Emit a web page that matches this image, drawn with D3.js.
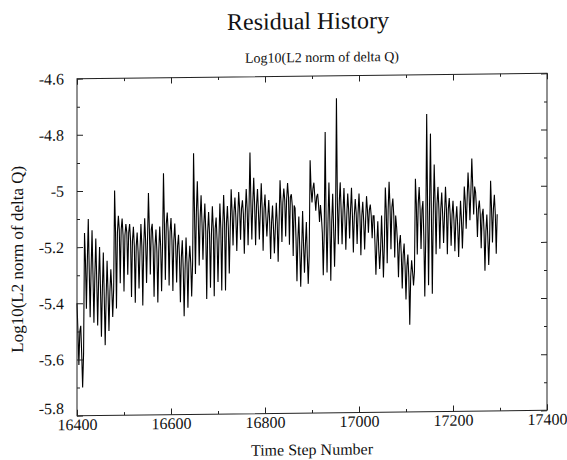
<!DOCTYPE html>
<html><head><meta charset="utf-8">
<script src="https://cdn.jsdelivr.net/npm/d3@7"></script>
<style>
body{margin:0;background:#fff}
svg{display:block}
text{font-family:"Liberation Serif","Times New Roman",serif;fill:#111}
</style>
</head><body>
<svg id="c" width="567" height="460"></svg>
<script>
const title = "Residual History";
const subtitle = "Log10(L2 norm of delta Q)";
const xLabel = "Time Step Number";
const yLabel = "Log10(L2 norm of delta Q)";
const xTicks = [16400, 16600, 16800, 17000, 17200, 17400];
const xMinor = [16500, 16700, 16900, 17100, 17300];
const yTicks = [-4.6, -4.8, -5, -5.2, -5.4, -5.6, -5.8];
const yMinor = [-4.7, -4.9, -5.1, -5.3, -5.5, -5.7];
const firstStep = 16400;
const binWidth = 8;
// per 8-step bin: upper spike, lower spike and the dense central band of the residual
const hiVals = [
 -5.40,-5.48,-5.15,-5.10,-5.14,-5.17,-5.20,-5.22,-5.25,-5.28,
 -5.00,-5.09,-5.10,-5.12,-5.12,-5.13,-5.15,-5.12,-5.10,-5.01,
 -5.12,-5.14,-5.13,-4.94,-5.08,-5.10,-5.12,-5.16,-5.18,-5.17,
 -5.20,-4.87,-4.97,-5.02,-5.05,-5.08,-5.06,-5.10,-5.05,-5.02,
 -5.06,-5.00,-5.03,-5.01,-5.04,-5.00,-4.87,-4.96,-5.00,-4.98,
 -5.02,-5.04,-5.06,-5.05,-4.97,-5.00,-4.98,-5.02,-5.07,-5.10,
 -5.08,-5.12,-4.90,-4.98,-5.02,-5.10,-4.80,-4.98,-5.02,-4.68,
 -4.98,-5.00,-5.02,-5.00,-5.04,-5.02,-5.05,-5.03,-5.06,-5.10,
 -5.12,-5.10,-5.00,-4.98,-5.04,-5.14,-5.17,-5.20,-5.24,-5.26,
 -4.97,-5.00,-5.05,-4.74,-4.81,-4.92,-5.00,-5.02,-5.00,-5.04,
 -5.05,-5.07,-5.05,-5.00,-4.95,-4.90,-5.02,-5.05,-5.08,-5.10,
 -4.98,-5.03
];
const loVals = [
 -5.62,-5.70,-5.42,-5.45,-5.47,-5.48,-5.52,-5.55,-5.50,-5.45,
 -5.42,-5.33,-5.36,-5.30,-5.38,-5.40,-5.35,-5.41,-5.33,-5.30,
 -5.38,-5.40,-5.36,-5.32,-5.34,-5.36,-5.33,-5.40,-5.45,-5.42,
 -5.38,-5.30,-5.27,-5.25,-5.39,-5.35,-5.38,-5.33,-5.36,-5.36,
 -5.30,-5.20,-5.22,-5.18,-5.23,-5.20,-5.18,-5.20,-5.18,-5.22,
 -5.17,-5.25,-5.23,-5.26,-5.19,-5.17,-5.20,-5.24,-5.33,-5.35,
 -5.30,-5.34,-5.05,-5.08,-5.12,-5.31,-5.30,-5.33,-5.28,-5.20,
 -5.20,-5.22,-5.18,-5.23,-5.20,-5.24,-5.22,-5.16,-5.18,-5.31,
 -5.29,-5.32,-5.27,-5.22,-5.25,-5.32,-5.36,-5.40,-5.49,-5.35,
 -5.24,-5.22,-5.39,-5.35,-5.38,-5.24,-5.22,-5.20,-5.24,-5.21,
 -5.23,-5.25,-5.22,-5.15,-5.12,-5.10,-5.18,-5.22,-5.30,-5.28,
 -5.20,-5.24
];
const midVals = [
 -5.50,-5.58,-5.25,-5.28,-5.30,-5.32,-5.35,-5.38,-5.36,-5.35,
 -5.15,-5.14,-5.16,-5.15,-5.18,-5.20,-5.22,-5.20,-5.18,-5.14,
 -5.20,-5.22,-5.20,-5.12,-5.15,-5.18,-5.20,-5.24,-5.28,-5.26,
 -5.26,-5.08,-5.10,-5.12,-5.15,-5.16,-5.14,-5.18,-5.14,-5.12,
 -5.14,-5.08,-5.10,-5.07,-5.09,-5.07,-5.05,-5.06,-5.08,-5.07,
 -5.10,-5.12,-5.14,-5.12,-5.05,-5.04,-5.03,-5.06,-5.18,-5.22,
 -5.20,-5.24,-5.00,-5.03,-5.06,-5.16,-5.12,-5.12,-5.14,-5.05,
 -5.08,-5.10,-5.08,-5.10,-5.09,-5.10,-5.12,-5.08,-5.10,-5.20,
 -5.22,-5.20,-5.08,-5.07,-5.10,-5.20,-5.24,-5.28,-5.32,-5.30,
 -5.06,-5.08,-5.18,-5.08,-5.10,-5.06,-5.08,-5.10,-5.08,-5.10,
 -5.12,-5.14,-5.12,-5.05,-5.02,-5.00,-5.08,-5.10,-5.16,-5.18,
 -5.08,-5.10
];

const svg = d3.select("#c");
const x = d3.scaleLinear().domain([16400, 17400]).range([77, 547]);
const y = d3.scaleLinear().domain([-5.8, -4.6]).range([413, 76]);
const fmt = d => String(d);

// each bin: spike up, back to the band, spike down, back to the band
const pts = [];
hiVals.forEach((h, i) => {
  const s = firstStep + i * binWidth;
  pts.push({step: s, v: h});
  pts.push({step: s + 2, v: midVals[i]});
  pts.push({step: s + 4, v: loVals[i]});
  pts.push({step: s + 6, v: midVals[i]});
});

const root = svg.append("g")
  .attr("transform", "translate(312,247) skewY(-0.65) translate(-312,-247)");
const g = root.append("g");

g.append("path")
  .datum(pts)
  .attr("fill", "none")
  .attr("stroke", "#000")
  .attr("stroke-width", 1.1)
  .attr("d", d3.line().x(d => x(d.step)).y(d => y(d.v)));

function styleAxis(sel) {
  sel.select(".domain").remove();
  sel.selectAll("line").attr("stroke", "#222");
  sel.selectAll("text").attr("font-family", '"Liberation Serif","Times New Roman",serif')
     .attr("font-size", 16).attr("fill", "#111");
}
const yB = y(-5.8), yT = y(-4.6), xL = x(16400), xR = x(17400);

g.append("g").attr("transform", `translate(0,${yB})`)
  .call(d3.axisBottom(x).tickValues(xTicks).tickFormat(fmt).tickSizeInner(-6).tickSizeOuter(0).tickPadding(3))
  .call(styleAxis);
g.append("g").attr("transform", `translate(0,${yB})`)
  .call(d3.axisBottom(x).tickValues(xMinor).tickFormat("").tickSizeInner(-3).tickSizeOuter(0))
  .call(styleAxis);
g.append("g").attr("transform", `translate(0,${yT})`)
  .call(d3.axisTop(x).tickValues(xTicks).tickFormat("").tickSizeInner(-6).tickSizeOuter(0))
  .call(styleAxis);
g.append("g").attr("transform", `translate(0,${yT})`)
  .call(d3.axisTop(x).tickValues(xMinor).tickFormat("").tickSizeInner(-3).tickSizeOuter(0))
  .call(styleAxis);
const la = g.append("g").attr("transform", `translate(${xL},0)`)
  .call(d3.axisLeft(y).tickValues(yTicks).tickFormat(fmt).tickSizeInner(-6).tickSizeOuter(0).tickPadding(13))
  .call(styleAxis);
la.selectAll(".tick").filter(d => d === -5.8).select("text").attr("dy", "-0.15em");
g.append("g").attr("transform", `translate(${xL},0)`)
  .call(d3.axisLeft(y).tickValues(yMinor).tickFormat("").tickSizeInner(-3).tickSizeOuter(0))
  .call(styleAxis);
g.append("g").attr("transform", `translate(${xR},0)`)
  .call(d3.axisRight(y).tickValues(yTicks).tickFormat("").tickSizeInner(-6).tickSizeOuter(0))
  .call(styleAxis);
g.append("g").attr("transform", `translate(${xR},0)`)
  .call(d3.axisRight(y).tickValues(yMinor).tickFormat("").tickSizeInner(-3).tickSizeOuter(0))
  .call(styleAxis);

g.append("rect")
  .attr("x", xL).attr("y", yT)
  .attr("width", xR - xL).attr("height", yB - yT)
  .attr("fill", "none").attr("stroke", "#222").attr("stroke-width", 1);

root.append("text").attr("x", 308).attr("y", 29).attr("text-anchor", "middle")
  .attr("font-size", 24).text(title);
root.append("text").attr("x", 322).attr("y", 62).attr("text-anchor", "middle")
  .attr("font-size", 14).text(subtitle);
root.append("text").attr("x", 312).attr("y", 455).attr("text-anchor", "middle")
  .attr("font-size", 16).text(xLabel);
root.append("text").attr("transform", "translate(23,256) rotate(-90)").attr("text-anchor", "middle")
  .attr("font-size", 17).text(yLabel);
</script>
</body></html>
